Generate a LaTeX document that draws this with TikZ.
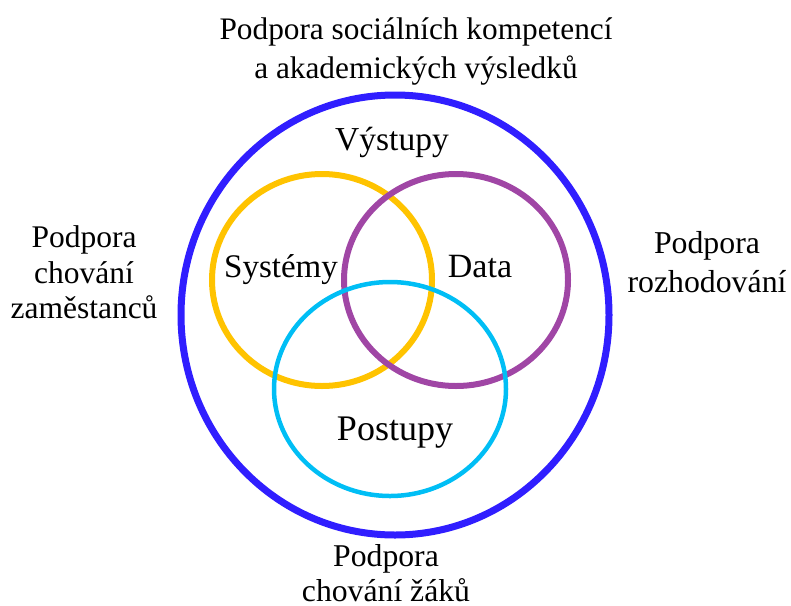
\documentclass[tikz,border=0pt]{standalone}
\usepackage{fontspec}
\setmainfont{Liberation Serif}
\definecolor{outerblue}{RGB}{48,30,255}
\definecolor{sysyellow}{RGB}{255,195,0}
\definecolor{datapurple}{RGB}{160,70,165}
\definecolor{proccyan}{RGB}{0,190,245}
\begin{document}
\begin{tikzpicture}[x=1pt,y=-1pt,
  outerlbl/.style={inner sep=0pt,align=center,anchor=north},
  innerlbl/.style={inner sep=0pt,anchor=base,font=\fontsize{34}{40}\selectfont}]
\useasboundingbox (0,0) rectangle (791,605);
\draw[outerblue,line width=7pt] (395,315) ellipse [x radius=214, y radius=220];
\draw[sysyellow,line width=6pt] (322,280) ellipse [x radius=110, y radius=106];
\draw[datapurple,line width=6pt] (456,280) ellipse [x radius=112, y radius=106];
\draw[proccyan,line width=4.5pt] (390,389) ellipse [x radius=116, y radius=107];
\node[innerlbl,font=\fontsize{33.5}{40}\selectfont] (vystupy) at (392,150) {Výstupy};
\node[innerlbl,font=\fontsize{33}{40}\selectfont] (systemy) at (281,277) {Systémy};
\node[innerlbl] (data) at (480,277) {Data};
\node[innerlbl,font=\fontsize{36}{40}\selectfont] (postupy) at (395,440) {Postupy};
\node[outerlbl,font=\fontsize{31.3}{39}\selectfont] (top) at (416,17.5) {Podpora sociálních kompetencí\\a akademických výsledků};
\node[outerlbl,font=\fontsize{31.5}{35.5}\selectfont] (left) at (84,225.5) {Podpora\\chování\\zaměstanců};
\node[outerlbl,font=\fontsize{31.8}{39}\selectfont] (right) at (707,231.5) {Podpora\\rozhodování};
\node[outerlbl,font=\fontsize{31.7}{35}\selectfont] (bottom) at (386,544) {Podpora\\chování žáků};
\end{tikzpicture}
\end{document}
